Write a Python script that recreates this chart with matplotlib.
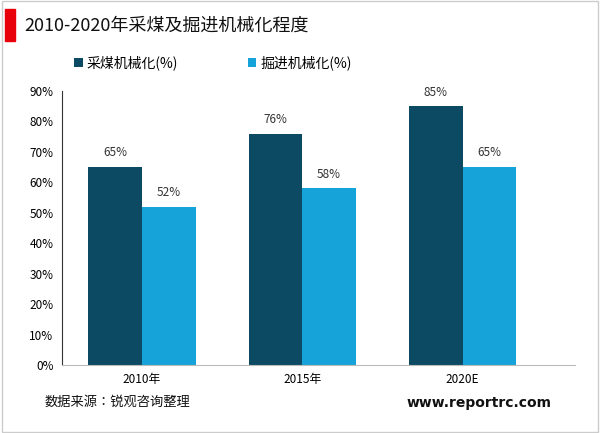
import matplotlib.pyplot as plt
import matplotlib.patches as mpatches
from matplotlib import font_manager
import numpy as np

# pick a CJK font that is actually installed
cjk = [f.name for f in font_manager.fontManager.ttflist if 'CJK' in f.name]
print(sorted(set(cjk)))
plt.rcParams['font.family'] = (sorted(set(cjk))[:1] or ['DejaVu Sans']) + ['DejaVu Sans']

categories = ['2010年', '2015年', '2020E']
coal_mining = [65, 76, 85]
tunneling = [52, 58, 65]
yticks = [0, 10, 20, 30, 40, 50, 60, 70, 80, 90]

dark = '#0b4a62'
light = '#16a3da'

fig = plt.figure(figsize=(6, 4.33), dpi=100)
ax = fig.add_axes([0.103, 0.157, 0.855, 0.633])

x = np.arange(len(categories))
w = 0.335
b1 = ax.bar(x - w / 2, coal_mining, w, color=dark, label='采煤机械化(%)')
b2 = ax.bar(x + w / 2, tunneling, w, color=light, label='掘进机械化(%)')
for bars in (b1, b2):
    for r in bars:
        ax.text(r.get_x() + r.get_width() / 2, r.get_height() + 2.5, f'{r.get_height():.0f}%',
                ha='center', va='bottom', fontsize=8.5, color='#333333')

ax.set_xlim(-0.5, 2.7)
ax.set_ylim(0, 90)
ax.set_yticks(yticks)
ax.set_yticklabels([f'{v}%' for v in yticks], fontsize=8.5)
ax.set_xticks(x)
ax.set_xticklabels(categories, fontsize=8.5)
ax.tick_params(length=0, pad=6)
for s in ['top', 'right']:
    ax.spines[s].set_visible(False)
ax.spines['left'].set_color('#333333')
ax.spines['bottom'].set_color('#bbbbbb')

ax.legend(loc='lower left', bbox_to_anchor=(0.0, 1.03), ncol=2, frameon=False,
          fontsize=10, handlelength=0.6, handleheight=0.6, columnspacing=5, handletextpad=0.3)

# frame and header
fig.patches.append(mpatches.Rectangle((0.003, 0.003), 0.994, 0.994, transform=fig.transFigure,
                                      fill=False, edgecolor='#cccccc', lw=1))
fig.patches.append(mpatches.Rectangle((0.008, 0.905), 0.017, 0.075, transform=fig.transFigure,
                                      color='#e8000b'))
fig.text(0.04, 0.94, '2010-2020年采煤及掘进机械化程度', fontsize=13, va='center', color='#111111')
fig.text(0.075, 0.07, '数据来源：锐观咨询整理', fontsize=9.5, va='center', color='#111111')
fig.text(0.92, 0.07, 'www.reportrc.com', fontsize=10, va='center', ha='right',
         fontweight='bold', family='DejaVu Sans', color='#111111')

fig.savefig('out.png', dpi=100)
